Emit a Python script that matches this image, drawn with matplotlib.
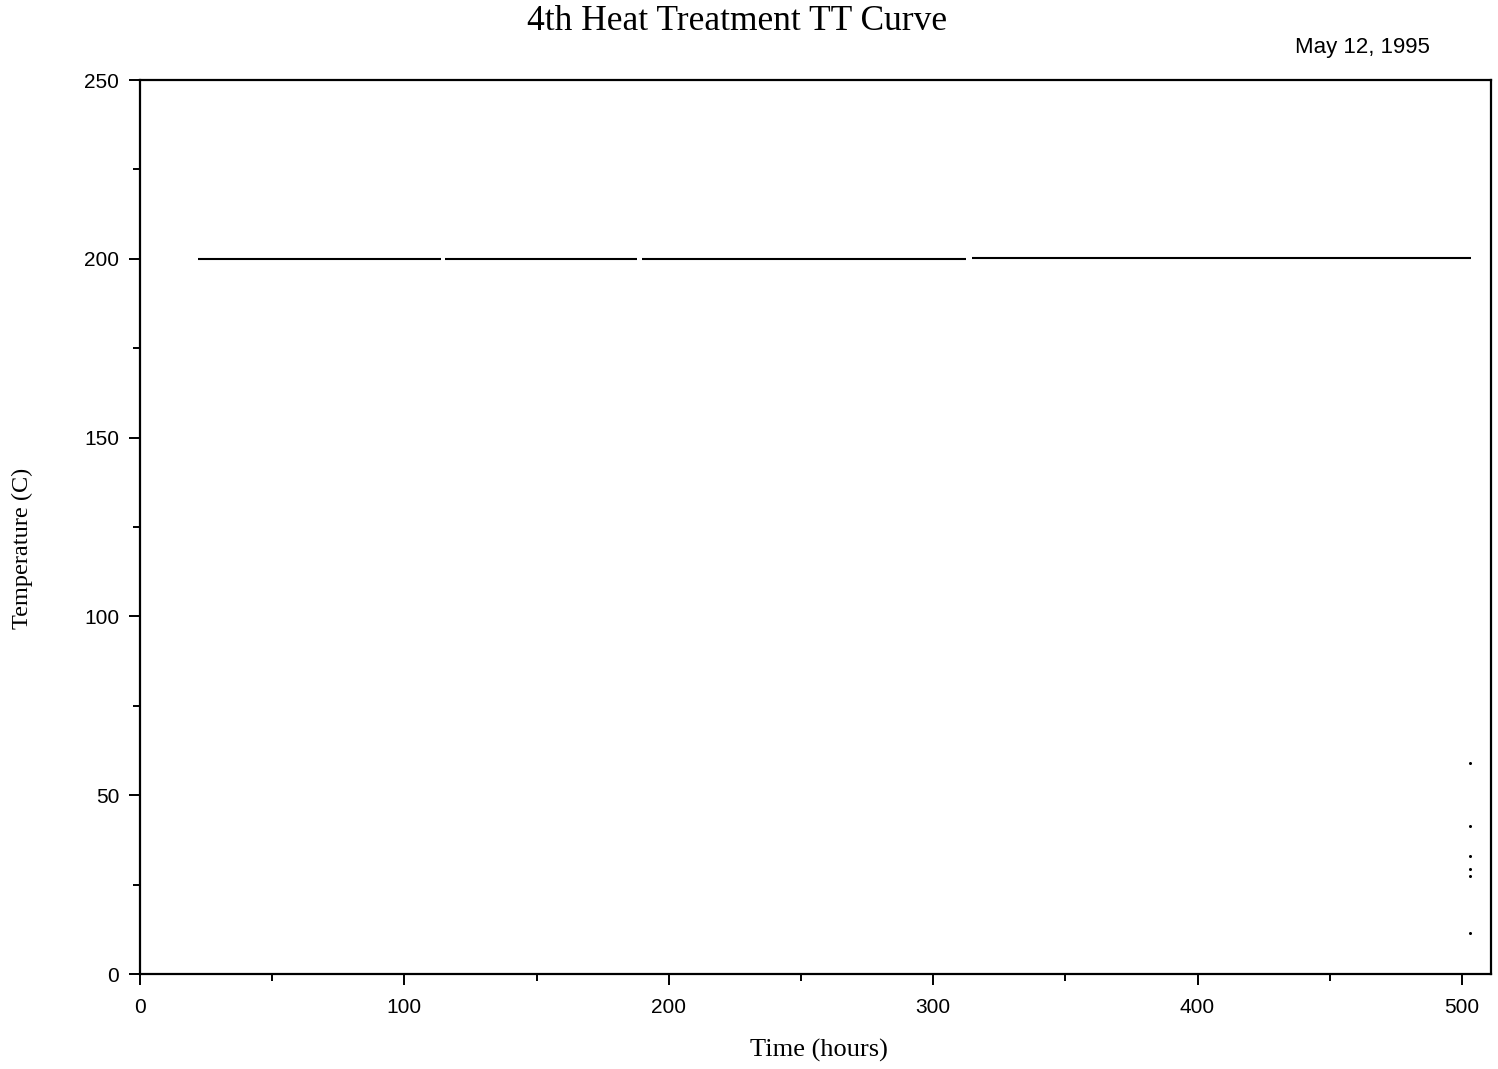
import numpy as np
import matplotlib
matplotlib.use('Agg')
from matplotlib import pyplot as plt
from matplotlib.ticker import MultipleLocator

# Soak segments at 200 C (logger gaps between them)
seg_start = [22.0, 115.4, 190.0, 314.7]
seg_end = [113.8, 188.0, 312.4, 503.4]
seg_temp = [200.0, 200.0, 200.0, 200.3]

# Cool-down readings taken at the end of the run
cool_time = [503.2, 503.2, 503.2, 503.2, 503.2, 503.2]
cool_temp = [59.0, 41.4, 33.0, 29.4, 27.4, 11.5]

SERIF = ['Liberation Serif', 'DejaVu Serif']
SANS = ['Liberation Sans', 'DejaVu Sans']


def main():
    fig = plt.figure(figsize=(14.98, 10.69), dpi=100)
    ax = fig.add_axes([140 / 1498, 1 - 974 / 1069, 1351 / 1498, 894 / 1069])

    # soak line, broken where data is missing
    xs, ys = [], []
    for a, b, t in zip(seg_start, seg_end, seg_temp):
        xs += [a, b, np.nan]
        ys += [t, t, np.nan]
    ax.plot(xs, ys, color='black', lw=1.5, solid_capstyle='butt')
    ax.plot(cool_time, cool_temp, 'o', color='black', ms=2.2, mew=0)

    ax.set_xlim(0, 511)
    ax.set_ylim(0, 250)
    ax.xaxis.set_major_locator(MultipleLocator(100))
    ax.xaxis.set_minor_locator(MultipleLocator(50))
    ax.yaxis.set_major_locator(MultipleLocator(50))
    ax.yaxis.set_minor_locator(MultipleLocator(25))
    ax.tick_params(which='both', direction='out', width=1.4, color='black',
                   top=False, right=False)
    ax.tick_params(which='major', length=8, labelsize=15)
    ax.tick_params(axis='x', which='major', pad=9)
    ax.tick_params(axis='y', which='major', pad=7)
    ax.tick_params(which='minor', length=5)
    for lab in ax.get_xticklabels() + ax.get_yticklabels():
        lab.set_family(SANS)
    for sp in ax.spines.values():
        sp.set_linewidth(1.6)

    ax.set_xlabel('Time (hours)', family=SERIF, fontsize=19, va='center')
    ax.xaxis.set_label_coords(0.5 + (818 - 815) / 1351, -76 / 894)
    ax.set_ylabel('Temperature (C)', family=SERIF, fontsize=17.5, va='center')
    ax.yaxis.set_label_coords(-118 / 1351, (974 - 548) / 894)

    fig.text(737 / 1498, 1 - 22 / 1069, '4th Heat Treatment TT Curve',
             family=SERIF, fontsize=25.5, ha='center', va='center')
    fig.text(1430 / 1498, 1 - 48 / 1069, 'May 12, 1995',
             family=SANS, fontsize=16, ha='right', va='center')

    fig.savefig('out.png', dpi=100, facecolor='white')


if __name__ == '__main__':
    main()
